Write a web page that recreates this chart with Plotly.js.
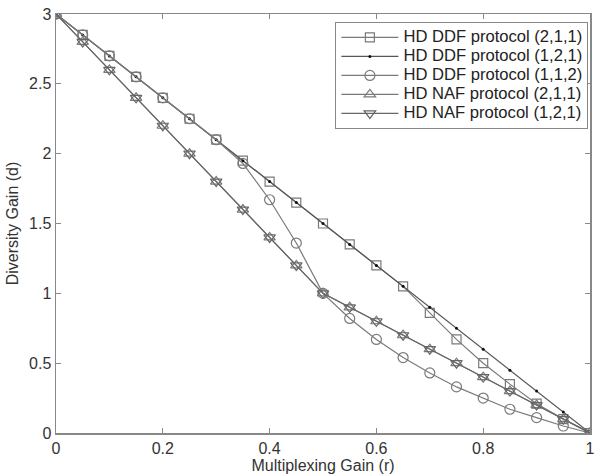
<!DOCTYPE html>
<html>
<head>
<meta charset="utf-8">
<script src="https://cdn.plot.ly/plotly-3.0.1.min.js"></script>
<style>html,body{margin:0;padding:0;background:#fff;}#chart{width:602px;height:475px;}</style>
</head>
<body>
<div id="chart"></div>
<script>
const r = [0,0.05,0.1,0.15,0.2,0.25,0.3,0.35,0.4,0.45,0.5,0.55,0.6,0.65,0.7,0.75,0.8,0.85,0.9,0.95,1];
const ddf211 = [3,2.85,2.7,2.55,2.4,2.25,2.1,1.95,1.8,1.65,1.5,1.35,1.2,1.05,0.86,0.67,0.5,0.35,0.21,0.1,0];
const ddf121 = [3,2.85,2.7,2.55,2.4,2.25,2.1,1.95,1.8,1.65,1.5,1.35,1.2,1.05,0.9,0.75,0.6,0.45,0.3,0.15,0];
const ddf112 = [3,2.85,2.7,2.55,2.4,2.25,2.1,1.93,1.67,1.36,1.0,0.82,0.67,0.54,0.43,0.33,0.25,0.17,0.11,0.05,0];
const naf211 = [3,2.8,2.6,2.4,2.2,2.0,1.8,1.6,1.4,1.2,1.0,0.9,0.8,0.7,0.6,0.5,0.4,0.3,0.2,0.1,0];
const naf121 = [3,2.8,2.6,2.4,2.2,2.0,1.8,1.6,1.4,1.2,1.0,0.9,0.8,0.7,0.6,0.5,0.4,0.3,0.2,0.1,0];
const names = ["HD DDF protocol (2,1,1)","HD DDF protocol (1,2,1)","HD DDF protocol (1,1,2)","HD NAF protocol (2,1,1)","HD NAF protocol (1,2,1)"];
const xTicks = [0,0.2,0.4,0.6,0.8,1];
const yTicks = [0,0.5,1,1.5,2,2.5,3];

const gray = '#7a7a7a';
const FONT = 'Liberation Sans, Arial, sans-serif';
const big = s => '<span style="font-size:16.6px">' + s + '</span>';
const traces = [
  {x:r, y:ddf211, name:big(names[0]), mode:'lines+markers', line:{color:gray,width:1.2},
   marker:{symbol:'square-open',size:9,color:gray,line:{width:1.2}}},
  {x:r, y:ddf121, name:big(names[1]), mode:'lines+markers', line:{color:'#555',width:1.2},
   marker:{symbol:'circle',size:3,color:'#111'}},
  {x:r, y:ddf112, name:big(names[2]), mode:'lines+markers', line:{color:gray,width:1.2},
   marker:{symbol:'circle-open',size:10,color:gray,line:{width:1.2}}},
  {x:r, y:naf211, name:big(names[3]), mode:'lines+markers', line:{color:gray,width:1.2},
   marker:{symbol:'triangle-up-open',size:10,color:gray,line:{width:1.2}}},
  {x:r, y:naf121, name:big(names[4]), mode:'lines+markers', line:{color:'#666',width:1.2},
   marker:{symbol:'triangle-down-open',size:10,color:'#666',line:{width:1.2}}}
];

const axisCommon = {
  showgrid:false, zeroline:false, showline:true, linecolor:'#888', linewidth:1.5,
  mirror:'ticks', ticks:'inside', ticklen:5, tickcolor:'#888', tickwidth:1,
  tickfont:{family:FONT, size:16, color:'#333'}
};
const layout = {
  width:602, height:475,
  margin:{l:56, r:12, t:14, b:42},
  paper_bgcolor:'#fff', plot_bgcolor:'#fff',
  showlegend:true,
  xaxis:Object.assign({}, axisCommon, {range:[0,1], tickvals:xTicks, ticktext:xTicks.map(String),
    title:{text:'Multiplexing Gain (r)', standoff:0, font:{family:FONT, size:16, color:'#333'}}}),
  yaxis:Object.assign({}, axisCommon, {range:[0,3], tickvals:yTicks, ticktext:yTicks.map(String),
    title:{text:'Diversity Gain (d)', standoff:6, font:{family:FONT, size:16, color:'#333'}}}),
  legend:{x:0.997, y:0.981, xanchor:'right', yanchor:'top', bgcolor:'#fff', bordercolor:'#888', borderwidth:1,
    font:{family:FONT, size:12, color:'#222'}, itemwidth:57, tracegroupgap:0},
  font:{family:FONT}
};
Plotly.newPlot('chart', traces, layout, {displayModeBar:false, staticPlot:true});
</script>
</body>
</html>
